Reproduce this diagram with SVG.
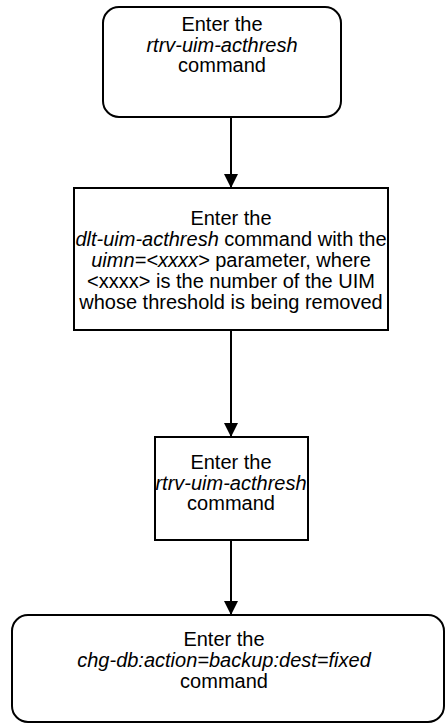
<svg xmlns="http://www.w3.org/2000/svg" width="445" height="723" viewBox="0 0 445 723">
<style>
.b{fill:#fff;stroke:#000;stroke-width:2}
.t{font-family:"Liberation Sans",Arial,sans-serif;font-size:20px;text-anchor:middle;fill:#000}
.i{font-style:italic}
.c{stroke:#000;stroke-width:2;fill:none}
</style>
<defs><marker id="a" markerWidth="14" markerHeight="14" refX="14" refY="7" orient="auto" markerUnits="userSpaceOnUse"><path d="M0,0L14,7L0,14z" fill="#000"/></marker></defs>
<g id="connectors">
<line class="c" x1="231" y1="117" x2="231" y2="188" marker-end="url(#a)"/>
<line class="c" x1="231" y1="330" x2="231" y2="437" marker-end="url(#a)"/>
<line class="c" x1="231" y1="540" x2="231" y2="615" marker-end="url(#a)"/>
</g>
<g id="n1">
<rect class="b" x="103" y="7" width="238" height="110" rx="16"/>
<text class="t" x="222" y="31">Enter the</text>
<text class="t i" x="222" y="52">rtrv-uim-acthresh</text>
<text class="t" x="222" y="72">command</text>
</g>
<g id="n2">
<rect class="b" x="74" y="188" width="314" height="142"/>
<text class="t" x="231" y="225">Enter the</text>
<text class="t" x="231" y="246"><tspan class="i">dlt-uim-acthresh</tspan> command with the</text>
<text class="t" x="231" y="267"><tspan class="i">uimn=&lt;xxxx&gt;</tspan> parameter, where</text>
<text class="t" x="231" y="288">&lt;xxxx&gt; is the number of the UIM</text>
<text class="t" x="231" y="309">whose threshold is being removed</text>
</g>
<g id="n3">
<rect class="b" x="155" y="437" width="153" height="103"/>
<text class="t" x="231" y="469">Enter the</text>
<text class="t i" x="231" y="490">rtrv-uim-acthresh</text>
<text class="t" x="231" y="510">command</text>
</g>
<g id="n4">
<rect class="b" x="12" y="615" width="432" height="107" rx="16"/>
<text class="t" x="224" y="646">Enter the</text>
<text class="t i" x="224" y="667">chg-db:action=backup:dest=fixed</text>
<text class="t" x="224" y="688">command</text>
</g>
</svg>
